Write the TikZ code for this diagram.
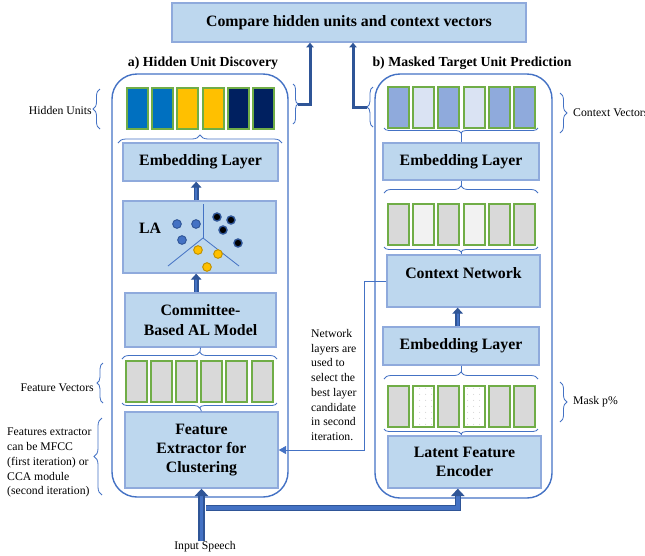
\documentclass[tikz,border=0pt]{standalone}
\usepackage{fontspec}
\setmainfont{Liberation Serif}
\usetikzlibrary{arrows.meta,decorations.pathreplacing,patterns.meta}

\definecolor{boxfill}{HTML}{BDD7EE}
\definecolor{boxline}{HTML}{8FAADC}
\definecolor{frameblue}{HTML}{4472C4}
\definecolor{arrowdark}{HTML}{2F5597}
\definecolor{barline}{HTML}{70AD47}
\definecolor{unitblue}{HTML}{0070C0}
\definecolor{unitgold}{HTML}{FFC000}
\definecolor{golddark}{HTML}{BF9000}
\definecolor{unitnavy}{HTML}{002060}
\definecolor{ctxdark}{HTML}{8FAADC}
\definecolor{ctxlight}{HTML}{DAE3F3}
\definecolor{featgray}{HTML}{D9D9D9}
\definecolor{featlight}{HTML}{F2F2F2}

\tikzset{
  blk/.style={draw=boxline, fill=boxfill, line width=1.2pt, align=center, inner sep=0pt,
    font=\bfseries\fontsize{13.5}{16.4}\selectfont},
  boxw/.style={minimum width=#1*0.3mm},
  boxh/.style={minimum height=#1*0.3mm},
  title/.style={font=\bfseries\fontsize{11.8}{14}\selectfont, inner sep=0pt},
  note/.style={font=\fontsize{10}{12.6}\selectfont, inner sep=0pt, align=left},
  bar/.style={draw=barline, line width=0.6mm, minimum width=21*0.3mm, minimum height=41*0.3mm, inner sep=0pt},
  panel/.style={draw=frameblue, line width=1.2pt, rounded corners=7.5mm},
  grp/.style={decorate, decoration={brace, amplitude=#1}, draw=frameblue, line width=0.7pt},
  link/.style={draw=frameblue, line width=0.7pt},
  upArrow/.style={draw=arrowdark, double=frameblue, double distance=0.7mm, line width=0.35mm,
    -{Triangle[width=3.2mm,length=1.8mm]}},
  toTop/.style={draw=arrowdark, line width=0.9mm, -{Triangle[width=2.2mm,length=1.4mm]}},
  feed/.style={draw=arrowdark, double=frameblue, double distance=1mm, line width=0.45mm,
    -{Triangle[width=4mm,length=2.2mm]}},
  dotA/.style={draw=arrowdark, fill=frameblue, line width=0.8pt},
  dotB/.style={draw=arrowdark, fill=black, line width=1.2pt},
  dotC/.style={draw=golddark, fill=unitgold, line width=0.8pt}
}

\begin{document}
\begin{tikzpicture}[x=0.3mm, y=-0.3mm]
\useasboundingbox (0,0) rectangle (645,555);

% Panels
\draw[panel] (112,74) rectangle (288,497);
\draw[panel] (375,74) rectangle (552,498);

% Top box and titles
\node[blk, boxw=354, boxh=39] (cmp) at (349,22.5) {Compare hidden units and context vectors};
\node[title] (tA) at (203,63) {a) Hidden Unit Discovery};
\node[title] (tB) at (472,63) {b) Masked Target Unit Prediction};

% Left column
\node[blk, boxw=155, boxh=38] (embL) at (200.5,162) {Embedding Layer};
\node[blk, boxw=153, boxh=72] (laBox) at (199.5,237) {};
\node[blk, draw=none, fill=none] (la) at (150,228) {LA};
\node[blk, boxw=151, boxh=54] (comm) at (200.5,320) {Committee-\\Based AL Model};
\node[blk, boxw=153, boxh=76] (feat) at (201.5,450) {Feature\\Extractor for\\Clustering};

% Clusters inside LA
\draw[link] (203,238) -- (203,204);
\draw[link] (203,238) -- (168,266);
\draw[link] (203,238) -- (239,266);
\foreach \p in {(177,224),(196,224),(182,240)}
  \draw[dotA] \p circle (1.3mm);
\foreach \p in {(217,217),(231,220),(223,230),(238,243)}
  \draw[dotB] \p circle (1.2mm);
\foreach \p in {(198,250),(218,254),(207,267)}
  \draw[dotC] \p circle (1.3mm);

% Hidden units and feature vectors
\foreach \c [count=\i] in {unitblue,unitblue,unitgold,unitgold,unitnavy,unitnavy}
  \node[bar, fill=\c] (hu\i) at ({137.5+25.2*(\i-1)},108.5) {};
\foreach \i in {1,...,6}
  \node[bar, fill=featgray] (fv\i) at ({136+25.2*(\i-1)},381.5) {};

% Right column
\node[blk, boxw=156, boxh=37] (embR1) at (461,161.5) {Embedding Layer};
\node[blk, boxw=153, boxh=52, text depth=4.8mm] (ctx) at (463.5,281) {Context Network};
\node[blk, boxw=156, boxh=38] (embR2) at (461,346) {Embedding Layer};
\node[blk, boxw=153, boxh=52] (latent) at (464.5,462) {Latent Feature\\Encoder};

% Context, network and masked vectors
\foreach \c [count=\i] in {ctxdark,ctxlight,ctxdark,ctxlight,ctxdark,ctxdark}
  \node[bar, fill=\c] (cv\i) at ({398.5+25.2*(\i-1)},107.5) {};
\foreach \c [count=\i] in {featgray,featlight,featgray,featlight,featgray,featgray}
  \node[bar, fill=\c] (nv\i) at ({398.5+25.2*(\i-1)},224) {};
\foreach \c [count=\i] in {featgray,white,featgray,white,featgray,featgray}
  \node[bar, fill=\c] (mk\i) at ({398.5+25.2*(\i-1)},406) {};
\foreach \i in {2,4}
  \fill[pattern={Dots[distance=1.8mm,radius=0.15mm]}, pattern color=gray!50]
    ([xshift=0.5mm,yshift=0.5mm]mk\i.south west) rectangle ([xshift=-0.5mm,yshift=-0.5mm]mk\i.north east);

% Braces
\draw[grp=2.1mm] (100,129) -- (100,89);
\draw[grp=1.5mm] (293,84) -- (293,124);
\draw[grp=2.4mm] (118,143) -- (282,143);
\draw[grp=2.1mm] (122,359) -- (277,359);
\draw[grp=1.5mm] (277,403) -- (122,403);
\draw[grp=1.8mm] (103,403) -- (103,363);
\draw[grp=2.4mm] (102,495) -- (102,418);
\draw[grp=1.8mm] (373,127) -- (373,87);
\draw[grp=2.1mm] (560,93) -- (560,133);
\draw[grp=1.5mm] (538,128) -- (384,128);
\draw[grp=2.1mm] (384,193) -- (538,193);
\draw[grp=1.5mm] (538,247) -- (384,247);
\draw[grp=2.1mm] (384,379) -- (538,379);
\draw[grp=1.5mm] (538,429) -- (384,429);
\draw[grp=2.1mm] (560,382) -- (560,422);

% Brace tips
\coordinate (huTip) at (298,104);
\coordinate (cvTip) at (367,107);
\coordinate (fvTop) at (200,352);
\coordinate (fvBot) at (200,408);
\coordinate (cvBot) at (461,133);
\coordinate (nvTop) at (461,186);
\coordinate (nvBot) at (461,252);
\coordinate (mkTop) at (461,372);
\coordinate (mkBot) at (461,434);

\draw[link] (comm.south) -- (fvTop);
\draw[link] (fvBot) -- (feat.north);
\draw[link] (cvBot) -- (embR1.north);
\draw[link] (embR1.south) -- (nvTop);
\draw[link] (nvBot) -- (nvBot |- ctx.north);
\draw[link] (embR2.south) -- (mkTop);
\draw[link] (mkBot) -- (mkBot |- latent.north);

% Arrows
\draw[toTop] (huTip) -| ([xshift=-11.7mm]cmp.south);
\draw[toTop] (cvTip) -| ([xshift=1.2mm]cmp.south);
\draw[upArrow] ([xshift=-1mm]laBox.north |- comm.north) -- ([xshift=-1mm]laBox.south);
\draw[upArrow] ([xshift=-1mm]laBox.north) -- ([xshift=-1mm]laBox.north |- embL.south);
\draw[upArrow] ([xshift=-1mm]embR2.north) -- ([xshift=-1mm]embR2.north |- ctx.south);
\draw[link, -{Triangle[width=2.4mm,length=2.2mm]}] (ctx.west) -- ++(-22,0) |- (feat.east);

% Side notes
\node[note, anchor=east] (huLbl) at (92,110) {Hidden Units};
\node[note, anchor=east] (fvLbl) at (94,388) {Feature Vectors};
\node[note, anchor=north west] (feLbl) at (7,428) {Features extractor\\can be MFCC\\(first iteration) or\\CCA module\\(second iteration)};
\node[note, anchor=north west] (netLbl) at (311,329) {Network\\layers are\\used to\\select the\\best layer\\candidate\\in second\\iteration.};
\node[note, anchor=west] (cvLbl) at (573,113) {Context Vectors};
\node[note, anchor=west] (mkLbl) at (573,402) {Mask p\%};

% Input speech
\node[note] (inp) at (205,547) {Input Speech};
\coordinate (split) at (206,508);
\draw[feed] (feat.south |- inp.north) -- (feat.south);
\draw[feed] (split) -| ([xshift=-2mm]latent.south);

\end{tikzpicture}
\end{document}
